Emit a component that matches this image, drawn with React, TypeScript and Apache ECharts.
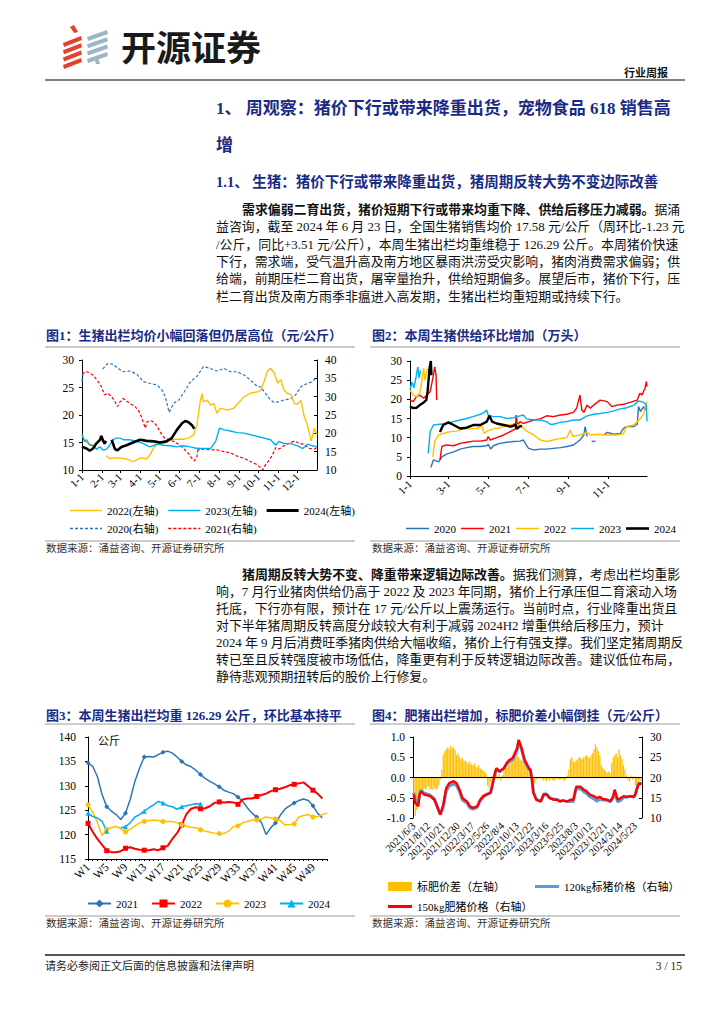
import React, { useEffect, useRef } from "react";
import * as echarts from "echarts";

const SERIF = '"Liberation Serif", "Noto Sans CJK SC", serif';
const CJK = '"Noto Sans CJK SC", sans-serif';
const NAVY = "#1a2b86";

// ---------- Figure 1: daily price (day-of-year index, value) ----------
const MONTH_LENGTHS = [31, 28, 31, 30, 31, 30, 31, 31, 30, 31, 30, 31];
const DAY_LABELS: string[] = [];
MONTH_LENGTHS.forEach((n, m) => {
  for (let d = 1; d <= n; d++) DAY_LABELS.push(`${m + 1}-${d}`);
});

const FIG1_2020 = [[0,34.1],[2,36.8],[4,null],[32,37.5],[40,39.1],[48,38.8],[56,37.7],[64,36.8],[74,37.0],[85,36.1],[95,34.1],[105,33.6],[116,33.2],[124,31.8],[129,30.0],[135,25.7],[142,28.2],[150,29.1],[157,30.9],[168,34.1],[178,35.5],[188,38.2],[199,37.7],[209,37.0],[220,37.7],[230,36.8],[240,36.8],[251,35.9],[261,34.5],[272,32.7],[277,32.7],[282,31.4],[292,29.1],[297,28.5],[303,28.5],[313,29.1],[323,29.4],[331,30.5],[339,32.7],[349,33.6],[357,34.1],[364,35.5]];
const FIG1_2021 = [[0,36.8],[4,36.4],[7,36.8],[12,36.4],[17,35.9],[25,34.1],[30,32.7],[35,30.5],[40,30.9],[46,30.0],[51,28.6],[55,27.3],[59,28.6],[64,29.5],[69,28.8],[74,28.2],[82,27.3],[87,26.4],[92,24.5],[98,21.4],[101,23.2],[108,23.4],[113,22.7],[118,21.4],[124,19.5],[129,18.6],[137,18.2],[147,17.3],[157,15.9],[165,14.5],[170,13.2],[174,12.5],[178,13.6],[180,16.1],[181,15.5],[188,15.7],[199,15.5],[209,15.5],[220,15.0],[230,14.7],[240,13.8],[251,13.2],[261,12.3],[272,11.4],[277,10.5],[280,10.0],[284,11.4],[290,12.7],[295,14.1],[300,16.1],[305,15.7],[313,16.6],[321,17.3],[329,17.9],[336,17.3],[344,17.0],[352,15.9],[360,15.7],[364,16.1]];
const FIG1_2022 = [[0,16.4],[4,15.5],[9,14.8],[15,14.5],[20,14.2],[25,13.6],[29,null],[37,12.6],[43,12.1],[53,12.2],[64,12.1],[74,11.8],[79,11.5],[85,11.9],[92,12.2],[100,12.0],[105,12.7],[112,14.2],[118,14.8],[126,14.8],[137,15.5],[147,15.6],[157,15.6],[165,15.8],[173,16.4],[178,18.2],[183,22.4],[186,23.9],[188,22.4],[194,22.7],[199,21.8],[204,22.1],[209,20.3],[214,21.2],[225,20.9],[235,21.2],[240,21.9],[251,23.3],[261,24.0],[272,24.2],[277,24.5],[282,26.1],[287,27.9],[292,28.5],[298,27.6],[303,25.8],[308,26.4],[313,24.5],[318,23.9],[323,23.8],[329,22.1],[334,22.0],[339,22.7],[344,19.8],[349,18.2],[355,15.3],[360,17.6],[364,16.4]];
const FIG1_2023 = [[0,16.4],[4,15.2],[7,15.5],[12,14.5],[17,14.5],[22,13.8],[28,14.2],[33,13.6],[38,13.8],[43,14.5],[48,15.5],[53,15.8],[59,15.8],[64,15.5],[74,15.5],[85,15.2],[95,14.8],[105,14.2],[116,14.7],[126,14.5],[137,14.4],[147,14.2],[157,14.4],[168,14.2],[178,13.9],[188,13.9],[199,13.9],[207,15.2],[213,17.6],[220,17.3],[230,17.1],[240,16.8],[251,16.7],[261,16.4],[272,16.1],[282,15.8],[292,15.5],[300,14.5],[305,15.2],[313,14.8],[323,14.8],[334,14.4],[342,13.9],[349,14.7],[357,14.4],[364,14.2]];
const FIG1_2024 = [[0,14.2],[7,13.9],[12,13.5],[17,13.9],[22,14.8],[28,15.5],[30,16.2],[33,15.2],[35,14.8],[37,15.3],[41,null],[46,15.5],[51,13.8],[55,13.6],[61,14.2],[69,14.5],[79,15.0],[90,15.5],[100,15.3],[111,15.2],[121,15.0],[131,15.2],[139,15.8],[147,17.3],[155,18.5],[160,18.9],[165,18.7],[170,18.2],[174,17.5]];

// ---------- Figure 2: weekly supply (day-of-year index, value) ----------
const FIG2_2020 = [[32,2.2],[36,4.2],[41,3.9],[44,3.7],[49,5.0],[56,5.7],[67,6.3],[77,7.0],[87,7.4],[97,7.7],[108,7.7],[118,7.9],[120,8.3],[124,7.0],[128,7.9],[138,8.5],[149,8.8],[159,9.0],[169,9.1],[174,9.4],[177,8.5],[182,7.2],[190,6.8],[200,7.0],[210,7.0],[220,7.2],[231,7.4],[241,7.7],[251,8.1],[261,9.4],[267,10.7],[269,12.9],[272,10.3],[275,null],[279,9.0],[285,9.1],[290,null],[297,10.7],[303,11.4],[313,10.9],[323,11.1],[328,12.4],[333,12.9],[344,12.9],[349,13.5],[351,18.1],[354,16.8],[359,18.1],[361,17.2],[364,17.7]];
const FIG2_2021 = [[0,19.8],[5,19.4],[10,20.7],[15,21.1],[21,20.3],[26,21.1],[31,22.0],[36,26.3],[38,28.5],[40,26.3],[41,19.8],[43,null],[46,4.2],[49,7.7],[56,8.1],[67,7.9],[77,8.5],[87,8.8],[97,9.1],[108,9.1],[118,9.4],[120,10.3],[123,9.4],[133,10.0],[144,10.7],[154,11.6],[162,12.3],[163,15.9],[165,13.3],[169,14.2],[174,13.7],[179,14.0],[190,14.6],[200,14.9],[210,15.7],[220,15.5],[231,15.9],[241,16.1],[251,16.6],[256,17.7],[261,21.1],[264,17.2],[267,16.6],[272,18.5],[277,17.7],[282,18.5],[292,19.8],[303,19.4],[310,18.1],[318,18.5],[328,18.7],[338,19.2],[349,19.8],[353,21.6],[356,21.1],[361,22.9],[363,24.6],[364,23.3]];
const FIG2_2022 = [[0,22.4],[5,21.1],[10,20.7],[15,21.6],[18,24.6],[21,28.1],[23,25.0],[26,27.2],[27,28.0],[30,null],[35,5.0],[38,9.0],[44,10.7],[51,11.1],[62,11.6],[72,11.7],[82,12.3],[92,12.3],[103,12.4],[110,13.1],[114,11.1],[118,11.7],[128,12.3],[138,12.6],[149,13.3],[159,13.5],[169,13.3],[179,11.7],[190,10.7],[200,9.4],[210,9.0],[220,9.4],[231,9.8],[241,10.0],[246,12.0],[250,10.3],[261,10.7],[272,11.4],[277,10.7],[287,10.9],[303,10.7],[318,10.7],[328,11.1],[333,12.9],[344,13.3],[349,14.2],[354,15.0],[359,16.3],[364,19.4]];
const FIG2_2023 = [[0,22.5],[3,24.5],[6,23.0],[9,25.5],[12,28.5],[14,25.5],[16,27.5],[20,null],[28,5.9],[31,11.6],[36,13.3],[46,13.5],[56,13.7],[67,14.2],[77,14.6],[87,15.0],[97,15.5],[108,16.1],[114,16.6],[118,17.2],[120,15.9],[128,15.5],[138,15.5],[149,15.0],[159,15.2],[169,15.7],[174,15.9],[179,14.9],[190,14.6],[200,14.6],[210,14.2],[215,13.5],[220,13.5],[231,14.0],[241,14.2],[251,14.6],[261,14.6],[272,15.7],[282,16.1],[292,16.3],[303,16.6],[313,17.0],[323,17.5],[333,17.8],[344,18.5],[351,19.6],[359,19.2],[363,18.5],[364,14.2]];
const FIG2_2024 = [[0,18.1],[5,17.7],[10,17.8],[15,18.5],[21,19.2],[25,19.8],[27,22.0],[30,28.1],[32,30.0],[33,26.3],[40,null],[46,11.5],[49,12.6],[51,13.3],[59,14.0],[67,13.3],[77,12.4],[87,12.6],[97,13.3],[108,13.3],[118,14.2],[122,15.7],[126,14.2],[133,13.7],[144,13.3],[154,12.9],[159,13.1],[162,13.5],[164,12.3],[168,12.9],[172,13.1]];

// ---------- Figure 3: weekly average weight ----------
const FIG3_WEEKS = Array.from({ length: 52 }, (_, i) => `W${i + 1}`);
const FIG3_2021 = [134.7,134.0,131.9,128.2,125.7,124.8,124.1,123.1,124.4,127.2,130.9,133.6,135.9,136.0,135.9,136.4,136.9,137.1,136.7,135.9,135.0,134.3,133.9,133.2,132.3,131.5,130.9,130.4,129.8,129.1,128.7,128.4,127.7,126.8,125.5,124.4,123.6,122.5,120.0,121.4,122.4,123.9,125.2,125.9,126.5,127.0,127.3,127.0,125.9,124.4,123.4];
const FIG3_2022 = [122.3,120.6,119.1,117.9,116.7,116.4,116.4,116.6,117.2,117.4,117.1,116.9,116.8,116.8,117.0,116.8,117.3,117.7,119.1,120.3,122.0,124.2,125.3,125.6,125.3,125.4,125.8,126.5,126.7,126.6,126.7,126.6,126.2,127.2,127.4,127.4,127.8,128.1,128.4,128.9,129.2,129.4,129.7,130.1,130.3,130.5,130.7,129.9,129.1,128.4,127.4];
const FIG3_2023 = [126.1,124.6,122.5,119.8,121.1,121.4,121.7,121.2,120.5,121.1,121.8,122.4,122.7,122.9,123.0,122.9,122.7,122.7,122.7,122.4,122.0,121.7,121.5,121.4,121.0,120.7,120.5,120.3,120.2,120.2,120.7,121.6,121.8,122.4,122.7,123.0,123.0,123.2,123.6,123.4,123.2,122.9,122.0,122.0,122.2,123.6,123.9,124.1,123.6,123.7,124.1,124.4];
const FIG3_2024 = [124.4,123.7,123.4,122.7,120.7,null,null,121.4,121.6,122.4,123.6,124.1,124.8,125.5,126.1,126.8,126.5,125.9,125.7,125.2,125.7,125.9,126.1,126.3,126.29];

// ---------- Figure 4: weekly fat / standard pig prices ----------
const FIG4_START = "2021/6/3";
const FIG4_END = "2024/6/20";
const FIG4_SKIPPED_WEEKS = ["2022/2/3", "2023/1/19", "2023/1/26", "2024/2/8", "2024/2/15"];
function weeklyLabels(start: string, end: string, skip: string[]): string[] {
  const [sy, sm, sd] = start.split("/").map(Number);
  const [ey, em, ed] = end.split("/").map(Number);
  const out: string[] = [];
  let t = Date.UTC(sy, sm - 1, sd);
  const te = Date.UTC(ey, em - 1, ed);
  while (t <= te) {
    const d = new Date(t);
    const s = `${d.getUTCFullYear()}/${d.getUTCMonth() + 1}/${d.getUTCDate()}`;
    if (!skip.includes(s)) out.push(s);
    t += 7 * 86400000;
  }
  return out;
}
const FIG4_DATES = weeklyLabels(FIG4_START, FIG4_END, FIG4_SKIPPED_WEEKS);
const FIG4_SPREAD = [
  -0.45,-0.95,-0.8,-0.5,-0.35,-0.3,-0.32,-0.28,-0.3,-0.25,
  -0.22,-0.3,-0.28,-0.3,-0.25,-0.3,-0.28,-0.2,-0.05,0.2,
  0.55,0.65,0.7,0.75,0.7,0.78,0.72,0.75,0.68,0.55,
  0.6,0.5,0.45,0.48,0.4,0.42,0.38,0.35,0.4,0.32,
  0.3,0.35,0.28,0.25,0.3,0.22,0.2,0.18,0.15,0.1,
  -0.2,-0.25,-0.1,0.05,-0.05,0.05,0.1,-0.05,0.08,-0.08,
  0.05,0.15,0.2,0.25,0.3,0.35,0.4,0.45,0.5,0.55,
  0.6,0.5,0.45,0.42,0.38,0.4,0.35,0.3,0.25,0.1,
  -0.1,-0.2,-0.15,-0.05,0.02,-0.03,0.02,-0.05,-0.08,-0.05,
  -0.1,-0.05,-0.08,-0.05,-0.06,-0.08,-0.05,-0.03,-0.05,-0.06,
  -0.04,-0.05,-0.08,-0.04,0.05,0.2,0.45,0.5,0.4,0.38,
  0.42,0.45,0.5,0.48,0.45,0.5,0.52,0.55,0.5,0.48,
  0.55,0.6,0.7,0.82,0.75,0.65,0.55,0.3,0.25,0.2,
  0.15,0.12,0.15,0.1,0.35,0.5,0.55,0.6,0.5,0.7,
  0.55,0.45,0.3,0.2,0.05,-0.05,-0.1,0.05,-0.05,0.03,
  -0.2,-0.3,-0.15,-0.05,-0.08,
];
const FIG4_FAT = [[0,15.8],[1,13.7],[3,12.9],[4,15.8],[5,16.6],[7,15.8],[11,15.4],[14,14.5],[18,10.8],[20,13.3],[22,17.4],[24,18.6],[27,19.1],[29,18.6],[31,17.0],[33,14.9],[36,14.1],[38,12.9],[40,12.5],[43,12.9],[45,14.5],[47,15.4],[49,15.8],[52,16.2],[53,17.8],[55,21.1],[56,22.3],[58,21.5],[61,22.3],[63,23.6],[65,24.4],[67,24.8],[70,27.3],[71,29.3],[73,27.3],[75,24.4],[78,22.3],[79,21.9],[80,19.5],[81,16.2],[83,14.5],[86,14.1],[88,15.8],[90,15.8],[92,14.9],[95,14.5],[97,14.5],[99,14.1],[101,14.3],[104,14.1],[106,14.5],[108,14.5],[110,17.7],[113,17.7],[115,17.0],[117,16.6],[119,15.8],[122,15.4],[124,14.9],[126,15.2],[128,14.7],[131,14.5],[133,14.1],[135,15.4],[136,17.0],[138,14.5],[140,14.9],[142,15.4],[144,15.2],[147,15.4],[149,15.2],[150,15.8],[151,17.0],[152,18.2],[153,18.6],[154,18.2]];
const FIG4_STD = [[0,16.25],[1,14.65],[3,13.4],[4,16.15],[5,16.9],[7,16.1],[11,15.7],[14,14.75],[18,10.85],[20,12.75],[22,16.7],[24,17.9],[27,18.35],[29,18.05],[31,16.5],[33,14.4],[36,13.7],[38,12.5],[40,12.2],[43,12.65],[45,14.3],[47,15.2],[49,15.7],[52,16.3],[53,17.75],[55,21.05],[56,22.2],[58,21.4],[61,22.15],[63,23.35],[65,24.05],[67,24.35],[70,26.7],[71,28.8],[73,26.9],[75,24.0],[78,22.05],[79,21.8],[80,19.6],[81,16.4],[83,14.55],[86,14.1],[88,15.9],[90,15.9],[92,15.0],[95,14.6],[97,14.55],[99,14.15],[101,14.35],[104,14.05],[106,14.05],[108,14.1],[110,17.3],[113,17.2],[115,16.5],[117,16.05],[119,15.3],[122,14.7],[124,14.15],[126,14.65],[128,14.45],[131,14.4],[133,14.0],[135,14.9],[136,16.45],[138,14.0],[140,14.35],[142,15.1],[144,15.15],[147,15.35],[149,15.15],[150,16.0],[151,17.3],[152,18.35],[153,18.65],[154,18.3]];

// ---------- Page text ----------
const PARA1 = [
  "益咨询，截至 2024 年 6 月 23 日，全国生猪销售均价 17.58 元/公斤（周环比-1.23 元",
  "/公斤，同比+3.51 元/公斤），本周生猪出栏均重维稳于 126.29 公斤。本周猪价快速",
  "下行，需求端，受气温升高及南方地区暴雨洪涝受灾影响，猪肉消费需求偏弱；供",
  "给端，前期压栏二育出货，屠宰量抬升，供给短期偏多。展望后市，猪价下行，压",
  "栏二育出货及南方雨季非瘟进入高发期，生猪出栏均重短期或持续下行。",
];
const PARA2 = [
  "响，7 月行业猪肉供给仍高于 2022 及 2023 年同期，猪价上行承压但二育滚动入场",
  "托底，下行亦有限，预计在 17 元/公斤以上震荡运行。当前时点，行业降重出货且",
  "对下半年猪周期反转高度分歧较大有利于减弱 2024H2 增重供给后移压力，预计",
  "2024 年 9 月后消费旺季猪肉供给大幅收缩，猪价上行有强支撑。我们坚定猪周期反",
  "转已至且反转强度被市场低估，降重更有利于反转逻辑边际改善。建议低位布局，",
  "静待悲观预期扭转后的股价上行修复。",
];

// legend icons (plain line / dashed line / filled box)
function solidIcon(w: number, h: number) {
  return `path://M0,0H${w}V${h}H0Z`;
}
function dashedIcon(w: number, h: number) {
  let p = "";
  for (let x = 0; x < w; x += 5) p += `M${x},0H${Math.min(x + 3, w)}V${h}H${x}Z`;
  return "path://" + p;
}

function txt(x: number, y: number, text: string, o: any = {}) {
  return {
    type: "text",
    x,
    y,
    silent: true,
    style: {
      text,
      fill: o.fill || "#111",
      fontSize: o.size || 12.9,
      fontFamily: o.family || SERIF,
      fontWeight: o.weight || "normal",
      align: o.align || "left",
      verticalAlign: "middle",
      rich: o.rich,
    },
  };
}
function hline(x1: number, x2: number, y: number, stroke: string, w: number) {
  return { type: "line", silent: true, shape: { x1, y1: y, x2, y2: y }, style: { stroke, lineWidth: w } };
}

function buildGraphic() {
  const els: any[] = [];
  // logo icon
  for (let k = 0; k < 4; k++) {
    const b = 37 + 7.3 * k;
    els.push({ type: "polygon", silent: true, shape: { points: [[63, b + 6], [81, b - 1], [82, b + 3], [64, b + 10]] }, style: { fill: "#e5402b" } });
    const c = 31 + 7.3 * k;
    els.push({ type: "polygon", silent: true, shape: { points: [[87, c + 6], [107, c - 1], [108, c + 3], [88, c + 10]] }, style: { fill: "#9db6c7" } });
  }
  els.push({ type: "polygon", silent: true, shape: { points: [[70, 27], [74, 25], [78, 32], [74, 33]] }, style: { fill: "#e5402b" } });
  els.push({ type: "polygon", silent: true, shape: { points: [[94, 58], [98, 58], [100, 64], [96, 64]] }, style: { fill: "#9db6c7" } });
  els.push(txt(121, 45, "开源证券", { size: 35, weight: "bold", family: CJK, fill: "#1a1a1a" }));
  els.push(txt(668, 72, "行业周报", { size: 11, weight: "bold", family: CJK, fill: "#111", align: "right" }));
  els.push(hline(45, 685, 80, "#000", 1.2));

  // headings
  els.push(txt(216, 108, "1、 周观察：猪价下行或带来降重出货，宠物食品 618 销售高", { size: 17, weight: "bold", fill: NAVY }));
  els.push(txt(216, 145, "增", { size: 17, weight: "bold", fill: NAVY }));
  els.push(txt(216, 182, "1.1、 生猪：猪价下行或带来降重出货，猪周期反转大势不变边际改善", { size: 14.5, weight: "bold", fill: NAVY }));

  const boldRich = { b: { fontWeight: "bold", fontSize: 12.9, fontFamily: SERIF, fill: "#111" } };
  els.push(txt(242, 210, "{b|需求偏弱二育出货，猪价短期下行或带来均重下降、供给后移压力减弱。}据涌", { rich: boldRich }));
  PARA1.forEach((s, i) => els.push(txt(216, 210 + 17.3 * (i + 1), s)));
  els.push(txt(242, 575, "{b|猪周期反转大势不变、降重带来逻辑边际改善。}据我们测算，考虑出栏均重影", { rich: boldRich }));
  PARA2.forEach((s, i) => els.push(txt(216, 575 + 17.05 * (i + 1), s)));

  // figure titles & rules
  const ft = { size: 13, weight: "bold", fill: NAVY };
  els.push(txt(46, 335, "图1：生猪出栏均价小幅回落但仍居高位（元/公斤）", ft));
  els.push(txt(372, 335, "图2：本周生猪供给环比增加（万头）", ft));
  els.push(txt(46, 715, "图3：本周生猪出栏均重 126.29 公斤，环比基本持平", ft));
  els.push(txt(372, 715, "图4：肥猪出栏增加，标肥价差小幅倒挂（元/公斤）", ft));
  [347, 541, 724, 916].forEach((y) => {
    els.push(hline(45, 355, y, "#9a9a9a", 1));
    els.push(hline(370, 680, y, "#9a9a9a", 1));
  });
  const src = "数据来源：涌益咨询、开源证券研究所";
  const so = { size: 10.5, fill: "#333" };
  els.push(txt(46, 548, src, so));
  els.push(txt(372, 548, src, so));
  els.push(txt(46, 923, src, so));
  els.push(txt(372, 923, src, so));
  els.push(txt(98, 741, "公斤", { size: 11, fill: "#000" }));

  // footer
  els.push(hline(45, 685, 955, "#555", 2));
  els.push(txt(45, 966, "请务必参阅正文后面的信息披露和法律声明", { size: 11, fill: "#222" }));
  els.push(txt(682, 966, "3 / 15", { size: 11.5, fill: "#222", align: "right" }));
  return els;
}

function buildOption() {
  const axisLine = { show: true, onZero: false, lineStyle: { color: "#000", width: 1 } };
  const lbl = { fontFamily: SERIF, fontSize: 11.5, color: "#000" };
  const monthStart = (_i: number, v: string) => v.split("-")[1] === "1";
  const oddMonthStart = (_i: number, v: string) => {
    const [m, d] = v.split("-");
    return d === "1" && Number(m) % 2 === 1;
  };
  const noSplit = { show: false };
  const yAx = (gridIndex: number, min: number, max: number, interval: number, position: string, extra: any = {}) => ({
    type: "value",
    gridIndex,
    min,
    max,
    interval,
    position,
    splitLine: noSplit,
    axisLine: { show: true, lineStyle: { color: "#000", width: 1 } },
    axisTick: { show: true, inside: position === "right", length: 3, lineStyle: { color: "#000" } },
    axisLabel: { ...lbl, margin: 8, ...(extra.axisLabel || {}) },
  });
  const legendText = { fontFamily: SERIF, fontSize: 11, color: "#000" };

  const ln = (name: string, data: any, color: string, xi: number, yi: number, width: number, extra: any = {}) => ({
    name,
    type: "line",
    xAxisIndex: xi,
    yAxisIndex: yi,
    data,
    symbol: "none",
    connectNulls: false,
    lineStyle: { color, width, ...(extra.lineStyle || {}) },
    itemStyle: { color },
    z: extra.z || 2,
  });
  const mk = (name: string, data: any, color: string, symbol: string, size: number, width: number) => ({
    name,
    type: "line",
    xAxisIndex: 2,
    yAxisIndex: 3,
    data,
    symbol,
    symbolSize: size,
    showSymbol: true,
    connectNulls: false,
    lineStyle: { color, width },
    itemStyle: { color },
  });

  return {
    animation: false,
    backgroundColor: "#ffffff",
    grid: [
      { left: 82, top: 360, width: 235, height: 110 },
      { left: 410, top: 361, width: 237, height: 115 },
      { left: 88, top: 737, width: 239, height: 122 },
      { left: 413, top: 737, width: 229, height: 81 },
    ],
    xAxis: [
      {
        gridIndex: 0, type: "category", data: DAY_LABELS, boundaryGap: false, axisLine,
        axisTick: { show: true, interval: monthStart, length: 3, lineStyle: { color: "#000" } },
        axisLabel: { ...lbl, fontSize: 11, interval: monthStart, rotate: 45, margin: 5 },
        splitLine: noSplit,
      },
      {
        gridIndex: 1, type: "category", data: DAY_LABELS, boundaryGap: false, axisLine,
        axisTick: { show: true, interval: oddMonthStart, length: 3, lineStyle: { color: "#000" } },
        axisLabel: { ...lbl, fontSize: 11, interval: oddMonthStart, rotate: 45, margin: 6 },
        splitLine: noSplit,
      },
      {
        gridIndex: 2, type: "category", data: FIG3_WEEKS, boundaryGap: false, axisLine,
        axisTick: { show: true, interval: 0, length: 2, lineStyle: { color: "#000" } },
        axisLabel: { ...lbl, fontSize: 11.5, interval: 3, rotate: 45, margin: 6 },
        splitLine: noSplit,
      },
      {
        gridIndex: 3, type: "category", data: FIG4_DATES, boundaryGap: true,
        axisLine: { show: false, onZero: false }, axisTick: { show: false },
        axisLabel: { ...lbl, fontSize: 10.5, interval: 9, rotate: 45, margin: 6 },
        splitLine: noSplit,
      },
    ],
    yAxis: [
      yAx(0, 10, 30, 5, "left"),
      yAx(0, 10, 40, 5, "right"),
      yAx(1, 0, 30, 5, "left"),
      yAx(2, 115, 140, 5, "left", { axisLabel: { margin: 12 } }),
      yAx(3, -1, 1, 0.5, "left", { axisLabel: { formatter: (v: number) => v.toFixed(1) } }),
      yAx(3, 10, 30, 5, "right"),
    ],
    legend: [
      {
        data: [
          { name: "2022(左轴)", icon: solidIcon(32, 1.4) },
          { name: "2023(左轴)", icon: solidIcon(32, 1.4) },
          { name: "2024(左轴)", icon: solidIcon(32, 2.8) },
        ],
        left: 65, top: 500, itemWidth: 32, itemHeight: 8, itemGap: 10, selectedMode: false, textStyle: legendText,
      },
      {
        data: [
          { name: "2020(右轴)", icon: dashedIcon(32, 1.3) },
          { name: "2021(右轴)", icon: dashedIcon(32, 1.3) },
        ],
        left: 65, top: 518, itemWidth: 32, itemHeight: 8, itemGap: 10, selectedMode: false, textStyle: legendText,
      },
      {
        data: [
          { name: "2020", icon: solidIcon(23, 1.5) },
          { name: "2021", icon: solidIcon(23, 1.5) },
          { name: "2022", icon: solidIcon(23, 1.5) },
          { name: "2023", icon: solidIcon(23, 1.5) },
          { name: "2024", icon: solidIcon(23, 2.6) },
        ],
        left: 401, top: 518, itemWidth: 23, itemHeight: 8, itemGap: 5, selectedMode: false, textStyle: legendText,
      },
      {
        data: ["周2021", "周2022", "周2023", "周2024"],
        left: 82, top: 893, itemWidth: 23, itemHeight: 10, itemGap: 13, selectedMode: false, textStyle: legendText,
        formatter: (n: string) => n.slice(1),
      },
      {
        data: [
          { name: "标肥价差（左轴）", icon: solidIcon(24, 9) },
          { name: "120kg标猪价格（右轴）", icon: solidIcon(24, 3) },
        ],
        left: 383, top: 876, itemWidth: 24, itemHeight: 9, itemGap: 30, selectedMode: false, textStyle: legendText,
      },
      {
        data: [{ name: "150kg肥猪价格（右轴）", icon: solidIcon(24, 3) }],
        left: 383, top: 896, itemWidth: 24, itemHeight: 9, selectedMode: false, textStyle: legendText,
      },
    ],
    series: [
      // Figure 1
      ln("2020(右轴)", FIG1_2020, "#2e75b6", 0, 1, 1.2, { lineStyle: { type: [3, 2] } }),
      ln("2021(右轴)", FIG1_2021, "#ff0000", 0, 1, 1.2, { lineStyle: { type: [3, 2] } }),
      ln("2022(左轴)", FIG1_2022, "#ffc000", 0, 0, 1.4),
      ln("2023(左轴)", FIG1_2023, "#00b0f0", 0, 0, 1.4),
      ln("2024(左轴)", FIG1_2024, "#000000", 0, 0, 2.6, { z: 4 }),
      // Figure 2
      ln("2020", FIG2_2020, "#2e75b6", 1, 2, 1.4),
      ln("2021", FIG2_2021, "#ff0000", 1, 2, 1.4),
      ln("2022", FIG2_2022, "#ffc000", 1, 2, 1.4),
      ln("2023", FIG2_2023, "#00b0f0", 1, 2, 1.4),
      ln("2024", FIG2_2024, "#000000", 1, 2, 2.4, { z: 4 }),
      // Figure 3
      mk("周2021", FIG3_2021, "#2e75b6", "diamond", 5, 1.5),
      mk("周2022", FIG3_2022, "#ff0000", "rect", 5, 2),
      mk("周2023", FIG3_2023, "#ffc000", "circle", 5, 1.5),
      mk("周2024", FIG3_2024, "#00b0f0", "triangle", 5, 1.5),
      // Figure 4
      {
        name: "标肥价差（左轴）", type: "bar", xAxisIndex: 3, yAxisIndex: 4, data: FIG4_SPREAD,
        barCategoryGap: "15%", itemStyle: { color: "#ffc000" },
        markLine: { silent: true, symbol: ["none", "none"], label: { show: false }, lineStyle: { color: "#000", type: "solid", width: 1 }, data: [{ yAxis: 0 }] },
      },
      ln("120kg标猪价格（右轴）", FIG4_STD, "#5b9bd5", 3, 5, 3, { z: 3 }),
      ln("150kg肥猪价格（右轴）", FIG4_FAT, "#ff0000", 3, 5, 2.4, { z: 4 }),
    ],
    graphic: { elements: buildGraphic() },
  };
}

export default function App() {
  const ref = useRef<HTMLDivElement>(null);
  useEffect(() => {
    if (!ref.current) return;
    const chart = echarts.init(ref.current, null, { renderer: "svg", width: 724, height: 1024 });
    chart.setOption(buildOption() as any);
    return () => chart.dispose();
  }, []);
  return (
    <div
      ref={ref}
      style={{ position: "absolute", left: 0, top: 0, width: 724, height: 1024, background: "#fff" }}
    />
  );
}
